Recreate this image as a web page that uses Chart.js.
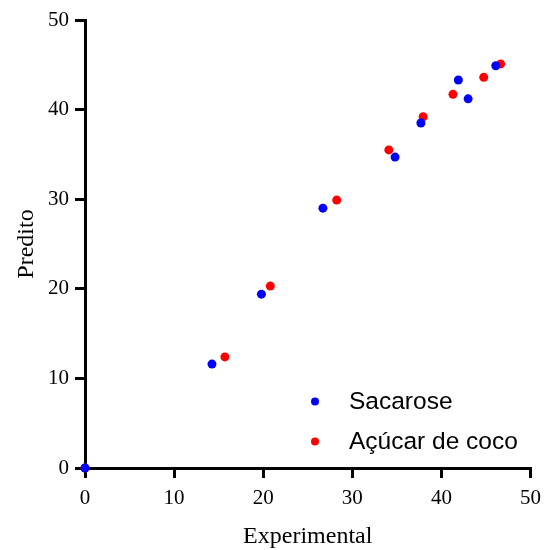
<!DOCTYPE html>
<html>
<head>
<meta charset="utf-8">
<script src="https://cdn.jsdelivr.net/npm/chart.js@4/dist/chart.umd.min.js"></script>
<style>
  html, body { margin: 0; padding: 0; background: #fff; }
  #wrap { width: 549px; height: 550px; }
</style>
</head>
<body>
<div id="wrap"><canvas id="chart" width="549" height="550"></canvas></div>
<script>
// Data
const seriesNames = ['Sacarose', 'Açúcar de coco'];
const seriesColors = ['#0000ff', '#ff0000'];
const sacaroseX = [0, 14.25, 19.8, 26.7, 34.8, 37.7, 41.9, 43.0, 46.1];
const sacaroseY = [0, 11.6, 19.4, 29.0, 34.7, 38.5, 43.3, 41.2, 44.9];
const cocoX = [0, 15.7, 20.8, 28.25, 34.1, 37.95, 41.3, 44.75, 46.65];
const cocoY = [0, 12.4, 20.3, 29.9, 35.5, 39.2, 41.7, 43.6, 45.1];
const axisMin = 0;
const axisMax = 50;
const axisStep = 10;

function toPoints(xs, ys) {
    return xs.map((x, i) => ({ x: x, y: ys[i] }));
}

// Legend drawn inside the plot area, lower right
const innerLegend = {
    id: 'innerLegend',
    afterDatasetsDraw(chart) {
        const { ctx, chartArea } = chart;
        const markerX = chartArea.left + 230;
        const textX = chartArea.left + 264;
        const rows = [chartArea.bottom - 66.5, chartArea.bottom - 26.5];
        ctx.save();
        ctx.font = '24.5px "Liberation Sans", Arial, sans-serif';
        ctx.textBaseline = 'middle';
        ctx.textAlign = 'left';
        seriesNames.forEach((name, i) => {
            ctx.fillStyle = seriesColors[i];
            ctx.beginPath();
            ctx.arc(markerX, rows[i], 4, 0, Math.PI * 2);
            ctx.fill();
            ctx.fillStyle = '#000';
            ctx.fillText(name, textX, rows[i] + 1);
        });
        ctx.restore();
    }
};

Chart.defaults.font.family = '"Liberation Serif", "Times New Roman", serif';
Chart.defaults.color = '#000';

const axisCommon = {
    type: 'linear',
    min: axisMin,
    max: axisMax,
    grid: {
        display: true,
        drawOnChartArea: false,
        drawTicks: true,
        tickLength: 10,
        tickWidth: 3,
        lineWidth: 3,
        tickColor: '#000',
        color: '#000'
    },
    border: { display: true, color: '#000', width: 3 }
};

new Chart(document.getElementById('chart'), {
    type: 'scatter',
    data: {
        datasets: [
            {
                label: seriesNames[0],
                data: toPoints(sacaroseX, sacaroseY),
                backgroundColor: seriesColors[0],
                borderColor: seriesColors[0],
                pointRadius: 4.5,
                borderWidth: 0,
                clip: false
            },
            {
                label: seriesNames[1],
                data: toPoints(cocoX, cocoY),
                backgroundColor: seriesColors[1],
                borderColor: seriesColors[1],
                pointRadius: 4.5,
                borderWidth: 0,
                clip: false
            }
        ]
    },
    options: {
        responsive: false,
        animation: false,
        layout: { padding: { left: 0, top: 20, right: 15, bottom: 0 } },
        plugins: {
            legend: { display: false },
            tooltip: { enabled: false }
        },
        scales: {
            x: Object.assign({}, axisCommon, {
                position: 'bottom',
                ticks: { stepSize: axisStep, padding: 8, font: { size: 21 }, maxRotation: 0 },
                title: {
                    display: true,
                    text: 'Experimental',
                    font: { size: 24, lineHeight: 1 },
                    padding: { top: 0, bottom: 1 }
                },
                afterFit(scale) { scale.height = 82; }
            }),
            y: Object.assign({}, axisCommon, {
                position: 'left',
                ticks: { stepSize: axisStep, padding: 6, font: { size: 21 } },
                title: {
                    display: true,
                    text: 'Predito',
                    font: { size: 24, lineHeight: 1 },
                    padding: { top: 15, bottom: 0 }
                },
                afterFit(scale) { scale.width = 85; }
            })
        }
    },
    plugins: [innerLegend]
});
</script>
</body>
</html>
